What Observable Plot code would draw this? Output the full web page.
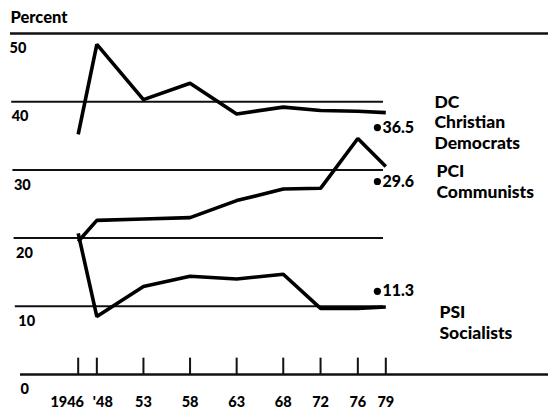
<!DOCTYPE html>
<html><head><meta charset="utf-8">
<script src="https://cdn.jsdelivr.net/npm/d3@7"></script>
<script src="https://cdn.jsdelivr.net/npm/@observablehq/plot@0.6"></script>
<style>
body{margin:0;background:#fff;}
#chart{width:548px;height:410px;overflow:hidden;}
svg{font-family:Lato,"Open Sans",sans-serif;font-weight:900;}
</style></head><body><div id="chart"></div>
<script>
// ---- data ----
const years = [1946, 1948, 1953, 1958, 1963, 1968, 1972, 1976, 1979];
const yearLabels = ["1946", "'48", "53", "58", "63", "68", "72", "76", "79"];
const dc  = [35.2, 48.4, 40.3, 42.7, 38.2, 39.2, 38.7, 38.6, 38.4];
const pci = [19.5, 22.6, 22.8, 23.0, 25.5, 27.2, 27.3, 34.6, 30.5];
const psi = [20.7, 8.5, 12.9, 14.4, 14.0, 14.7, 9.7, 9.7, 9.9];
const gridValues = [50, 40, 30, 20, 10, 0];
const gridLabels = ["50", "40", "30", "20", "10", "0"];
const noteLabels = ["36.5", "29.6", "11.3"];
const noteValues = [36.2, 28.3, 12.2];
const noteYear = 1978.1;
const seriesNames = ["DC\nChristian\nDemocrats", "PCI\nCommunists", "PSI\nSocialists"];
const seriesTop = [41.3, 31.1, 10.4];

// table for the line marks
const rows = [];
[["DC", dc], ["PCI", pci], ["PSI", psi]].forEach(([party, vals]) =>
  years.forEach((yr, i) => rows.push({party, year: yr, value: vals[i]})));

// pixel helper for layout positions (outside the data)
const X = px => 1946 + (px - 77.7) * 33 / 307.6;
const labelIdx = years.map((d, i) => i);

const chart = Plot.plot({
  width: 548, height: 410,
  marginTop: 0, marginRight: 0, marginBottom: 0, marginLeft: 0,
  x: {domain: [1946, 1979], range: [77.7, 385.3], axis: null},
  y: {domain: [0, 50], range: [374, 33], axis: null},
  marks: [
    // gridlines
    Plot.ruleY(gridValues, {
      y: d => d,
      x1: d => d === 0 ? X(20) : X(10 + (50 - d) * 0.12),
      x2: d => (d === 0 || d === 50) ? X(548) : X(383),
      stroke: "#111", strokeWidth: d => (d === 0 || d === 50) ? 2.4 : 2
    }),
    // year ticks
    Plot.ruleX(years, {x: d => d, y1: 0, y2: 2.4, stroke: "#111", strokeWidth: 2}),
    // party lines
    Plot.line(rows, {x: "year", y: "value", z: "party", stroke: "#000",
      strokeWidth: 3.6, strokeLinejoin: "miter", strokeLinecap: "butt"}),
    // annotation dots
    Plot.dot(noteValues, {x: noteYear, y: d => d, r: 3.6, fill: "#000", stroke: null}),
    Plot.text(noteValues, {x: noteYear, y: d => d, text: (d, i) => noteLabels[i],
      dx: 5, textAnchor: "start", lineAnchor: "middle", fontSize: 16, fill: "#000"}),
    // series labels
    Plot.text(seriesTop, {x: (d, i) => X([434, 436, 439][i]), y: d => d,
      text: (d, i) => seriesNames[i], textAnchor: "start", lineAnchor: "top",
      lineHeight: 1.18, fontSize: 17.5, fill: "#000"}),
    // y tick labels
    Plot.text(gridValues, {x: d => X(20 - d * 0.22), y: d => d, text: (d, i) => gridLabels[i],
      dy: 15, textAnchor: "start", lineAnchor: "middle", fontSize: 14.5, fill: "#000"}),
    // x tick labels
    Plot.text(labelIdx.filter(i => i > 1), {x: i => years[i], y: () => 0, text: i => yearLabels[i],
      dy: 28, lineAnchor: "middle", fontSize: 14.5, fill: "#000"}),
    Plot.text([0], {x: i => years[i], y: () => 0, text: i => yearLabels[i],
      dx: -11, dy: 28, lineAnchor: "middle", fontSize: 14.5, fill: "#000"}),
    Plot.text([1], {x: i => years[i], y: () => 0, text: i => yearLabels[i],
      dx: 6, dy: 28, lineAnchor: "middle", fontSize: 14.5, fill: "#000"}),
    // title
    Plot.text(["Percent"], {x: X(10), y: () => 50, dy: -16, textAnchor: "start",
      lineAnchor: "middle", fontSize: 16.5, fill: "#000"})
  ]
});
document.getElementById("chart").appendChild(chart);
</script></body></html>
